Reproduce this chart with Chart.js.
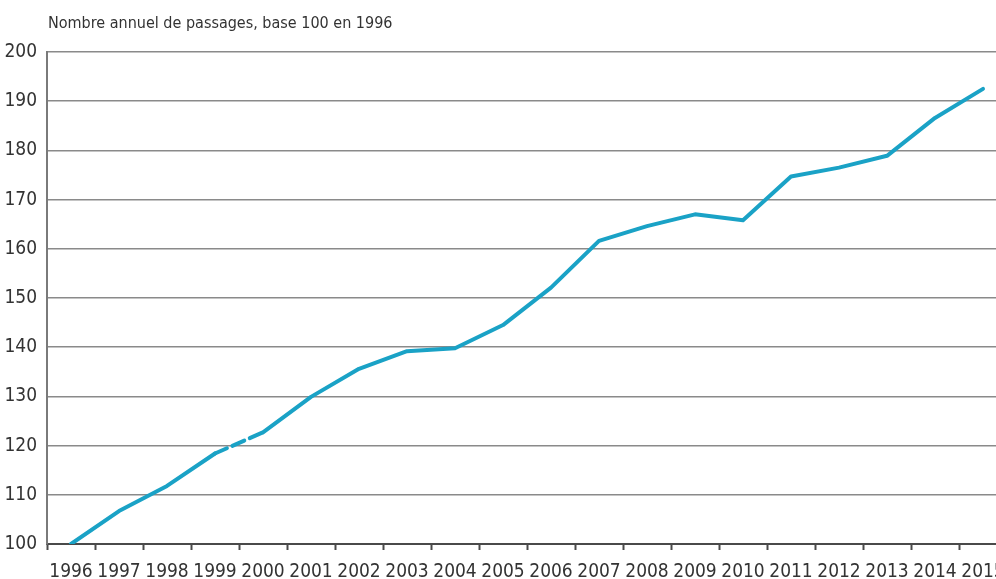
<!DOCTYPE html>
<html>
<head>
<meta charset="utf-8">
<script src="https://cdn.jsdelivr.net/npm/chart.js@4"></script>
<style>
  html, body { margin: 0; padding: 0; background: #fff; overflow: hidden; }
  #wrap { width: 1010px; height: 579px; position: relative; }
</style>
</head>
<body>
<div id="wrap"><canvas id="passages-chart"></canvas></div>
<script>
const years = ['1996', '1997', '1998', '1999', '2000', '2001', '2002', '2003', '2004', '2005',
  '2006', '2007', '2008', '2009', '2010', '2011', '2012', '2013', '2014', '2015'];
const passages = [100, 106.7, 111.8, 118.4, 122.7, 129.9, 135.6, 139.2, 139.8, 144.5,
  152.1, 161.6, 164.6, 167.0, 165.8, 174.7, 176.5, 178.9, 186.6, 192.5];
const yTicks = [100, 110, 120, 130, 140, 150, 160, 170, 180, 190, 200];
const titleText = 'Nombre annuel de passages, base 100 en 1996';
// break in the series between 1999 and 2000 (dashed)
const breakIndex = 3;

const fontFamily = "'Liberation Sans Narrow', 'DejaVu Sans Condensed', sans-serif";
const textColor = '#333';

const titlePlugin = {
  id: 'topTitle',
  afterDraw(chart) {
    const ctx = chart.ctx;
    ctx.save();
    ctx.font = '16px ' + fontFamily;
    ctx.fillStyle = textColor;
    ctx.textBaseline = 'middle';
    ctx.textAlign = 'left';
    ctx.fillText(titleText, chart.chartArea.left + 1, 24);
    ctx.restore();
  },
};

const chart = new Chart(document.getElementById('passages-chart'), {
  type: 'line',
  data: {
    labels: years,
    datasets: [
      {
        data: passages,
        borderColor: '#1aa2c6',
        borderWidth: 4,
        borderCapStyle: 'round',
        borderJoinStyle: 'round',
        pointRadius: 0,
        tension: 0,
        fill: false,
        segment: {
          borderDash: (ctx) => (ctx.p0DataIndex === breakIndex ? [13, 6] : undefined),
        },
      },
    ],
  },
  options: {
    responsive: true,
    maintainAspectRatio: false,
    animation: false,
    layout: { padding: { top: 52, right: 3, left: 0, bottom: 0 } },
    plugins: {
      legend: { display: false },
      tooltip: { enabled: false },
    },
    scales: {
      x: {
        offset: true,
        afterFit: (scale) => {
          scale.height = 35;
          scale.paddingLeft = 0;
          scale.paddingRight = 0;
        },
        border: { display: true, color: '#4a4a4a', width: 2 },
        grid: {
          offset: true,
          drawOnChartArea: false,
          drawTicks: true,
          tickLength: 6,
          tickWidth: 2,
          tickColor: '#4a4a4a',
        },
        ticks: {
          autoSkip: false,
          maxRotation: 0,
          padding: 11,
          color: textColor,
          font: { family: fontFamily, size: 19 },
        },
      },
      y: {
        min: 100,
        max: 200,
        afterFit: (scale) => { scale.width = 47; },
        afterBuildTicks: (scale) => { scale.ticks = yTicks.map((v) => ({ value: v })); },
        border: { display: true, color: '#7a7a7a', width: 2 },
        grid: {
          drawTicks: false,
          color: '#8a8a8a',
          lineWidth: 1.5,
        },
        ticks: {
          padding: 10,
          color: textColor,
          font: { family: fontFamily, size: 19 },
        },
      },
    },
  },
  plugins: [titlePlugin],
});
</script>
</body>
</html>
